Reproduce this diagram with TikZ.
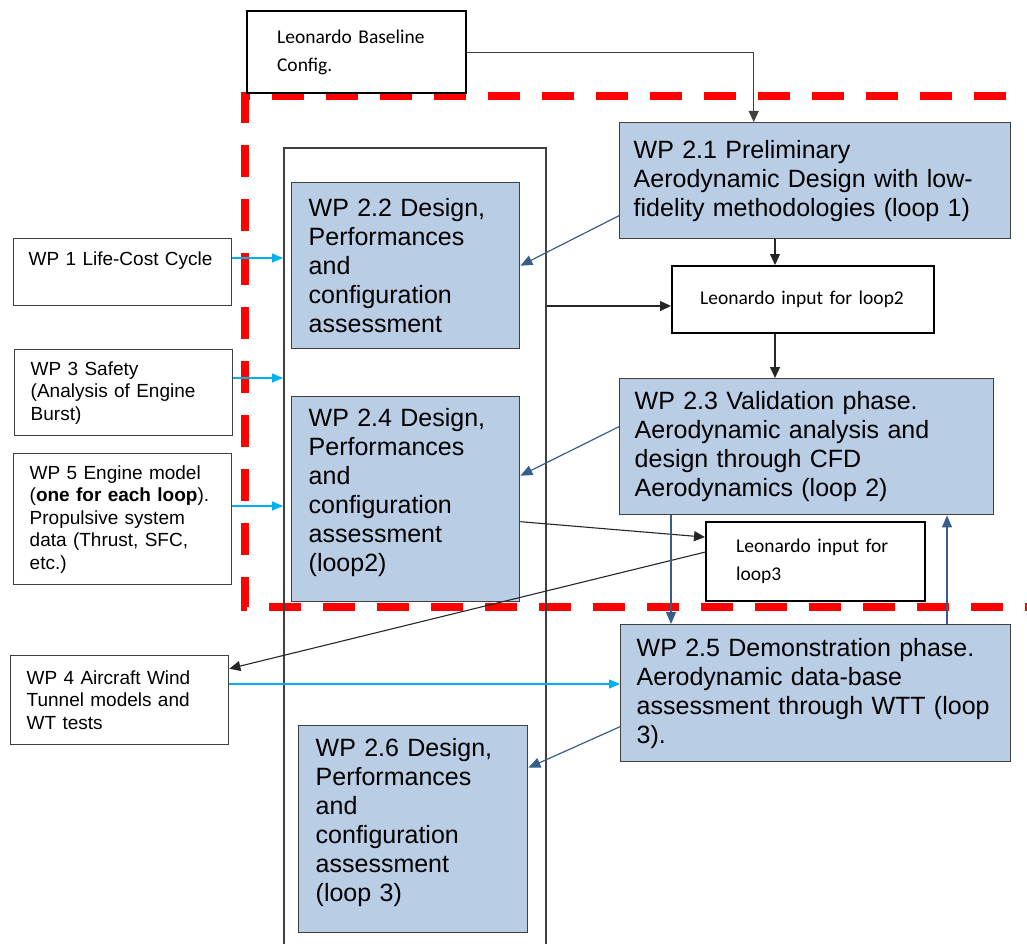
\documentclass[tikz,border=0pt]{standalone}
\usepackage{fontspec}
\setmainfont{Liberation Sans}
\newfontfamily\calibri{Carlito}
\usetikzlibrary{arrows.meta}
\definecolor{wpfill}{HTML}{B9CDE5}
\definecolor{wpline}{HTML}{404040}
\definecolor{linkblue}{HTML}{385D8A}
\definecolor{feedcyan}{HTML}{00B0F0}
\definecolor{framered}{HTML}{FF0000}

\begin{document}
\begin{tikzpicture}[x=1pt, y=-1pt,
        wp/.style={rectangle, draw=wpline, line width=1.4pt, fill=wpfill, anchor=north west, align=left, inner ysep=0pt, font=\fontsize{25}{29}\selectfont},
        ext/.style={rectangle, draw=wpline, line width=1.4pt, fill=white, anchor=north west, align=left, inner ysep=0pt, font=\fontsize{19}{22.5}\selectfont},
        leo/.style={rectangle, draw=black, line width=2.2pt, fill=white, anchor=north west, align=left, inner ysep=0pt, font=\calibri\fontsize{19.5}{28}\selectfont},
        blk/.style={draw=black!85, line width=1.1pt, -{Triangle[length=11pt,width=10pt]}},
        back/.style={draw=linkblue, line width=1.2pt, -{Triangle[length=12pt,width=10pt]}},
        feed/.style={draw=feedcyan, line width=1.2pt, -{Triangle[length=11pt,width=9pt]}}
    ]
    \useasboundingbox (0,0) rectangle (1027,944);

    % red boundary of WP 2
    \draw[framered, line width=8pt, dash pattern=on 32pt off 22pt] (1060,96) -- (245,96) -- (245,607) -- (1060,607);

    % column of design assessments
    \node[draw=wpline, line width=1.8pt, anchor=north west, minimum width=262pt, minimum height=830pt, inner sep=0pt] (frame) at (283,147) {};

    \node[leo, text width=159pt, inner xsep=30pt, minimum height=82pt] (base) at (246,10) {Leonardo Baseline\\Config.};
    \node[wp, text width=363pt, inner xsep=14pt, minimum height=116pt] (wp21) at (619,122) {WP 2.1 Preliminary\\Aerodynamic Design with low-\\fidelity methodologies (loop 1)};
    \node[leo, text width=206pt, inner xsep=28pt, minimum height=67pt] (loop2) at (671,265) {Leonardo input for loop2};
    \node[wp, text width=344pt, inner xsep=15pt, minimum height=136pt] (wp23) at (619,378) {WP 2.3 Validation phase.\\Aerodynamic analysis and\\design through CFD\\Aerodynamics (loop 2)};
    \node[leo, text width=159pt, inner xsep=30pt, minimum height=79pt] (loop3) at (705,521) {Leonardo input for\\loop3};
    \node[wp, text width=358pt, inner xsep=16pt, minimum height=137pt] (wp25) at (620,624) {WP 2.5 Demonstration phase.\\Aerodynamic data-base\\assessment through WTT (loop\\3).};

    \node[wp, text width=194pt, inner xsep=17pt, minimum height=166pt] (wp22) at (291,182) {WP 2.2 Design,\\Performances\\and\\configuration\\assessment};
    \node[wp, text width=194pt, inner xsep=17pt, minimum height=205pt] (wp24) at (291,396) {WP 2.4 Design,\\Performances\\and\\configuration\\assessment\\(loop2)\\[-10pt]\mbox{}};
    \node[wp, text width=195pt, inner xsep=17pt, minimum height=207pt] (wp26) at (298,725) {WP 2.6 Design,\\Performances\\and\\configuration\\assessment\\(loop 3)\\[-10pt]\mbox{}};

    \node[ext, text width=188pt, inner xsep=15pt, minimum height=67pt] (wp1) at (13,238) {WP 1 Life-Cost Cycle\\[4pt]\mbox{}};
    \node[ext, text width=186pt, inner xsep=16pt, minimum height=86pt] (wp3) at (14,349) {WP 3 Safety\\(Analysis of Engine\\Burst)};
    \node[ext, text width=186pt, inner xsep=16pt, minimum height=131pt] (wp5) at (13,453) {WP 5 Engine model\\(\textbf{one for each loop}).\\Propulsive system\\data (Thrust, SFC,\\etc.)};
    \node[ext, text width=186pt, inner xsep=16pt, minimum height=89pt] (wp4) at (10,655) {WP 4 Aircraft Wind\\Tunnel models and\\WT tests};

    % connectors
    \coordinate (colA) at (775,0);
    \coordinate (colB) at (671,0);
    \coordinate (colC) at (947,0);
    \coordinate (rowA) at (0,306);
    \coordinate (rowB) at (0,684);

    \draw[blk, draw=wpline] (base.east) -| ([xshift=-61.5pt]wp21.north);
    \draw[back] ([yshift=-35pt]wp21.west) -- (wp22.east);
    \draw[blk] (wp21.south -| colA) -- (loop2.north -| colA);
    \draw[blk] (frame.east |- rowA) -- (loop2.west |- rowA);
    \draw[blk] (loop2.south -| colA) -- (wp23.north -| colA);
    \draw[back] ([yshift=20pt]wp23.west) -- ([yshift=23.5pt]wp24.east);
    \draw[blk] ([yshift=-22.5pt]wp24.east) -- ([yshift=24.5pt]loop3.west);
    \draw[blk] ([yshift=9.5pt]loop3.west) -- ([yshift=31.5pt]wp4.east);
    \draw[back] (wp23.south -| colB) -- (wp25.north -| colB);
    \draw[back] (wp25.north -| colC) -- (wp23.south -| colC);
    \draw[back] ([yshift=-33.5pt]wp25.west) -- ([yshift=61.5pt]wp26.east);
    \draw[feed] (wp4.east |- rowB) -- (wp25.west |- rowB);
    \foreach \src/\y in {wp1/258, wp3/378, wp5/506} {
        \coordinate (row) at (0,\y);
        \draw[feed] (\src.east |- row) -- (frame.west |- row);
    }
\end{tikzpicture}
\end{document}
